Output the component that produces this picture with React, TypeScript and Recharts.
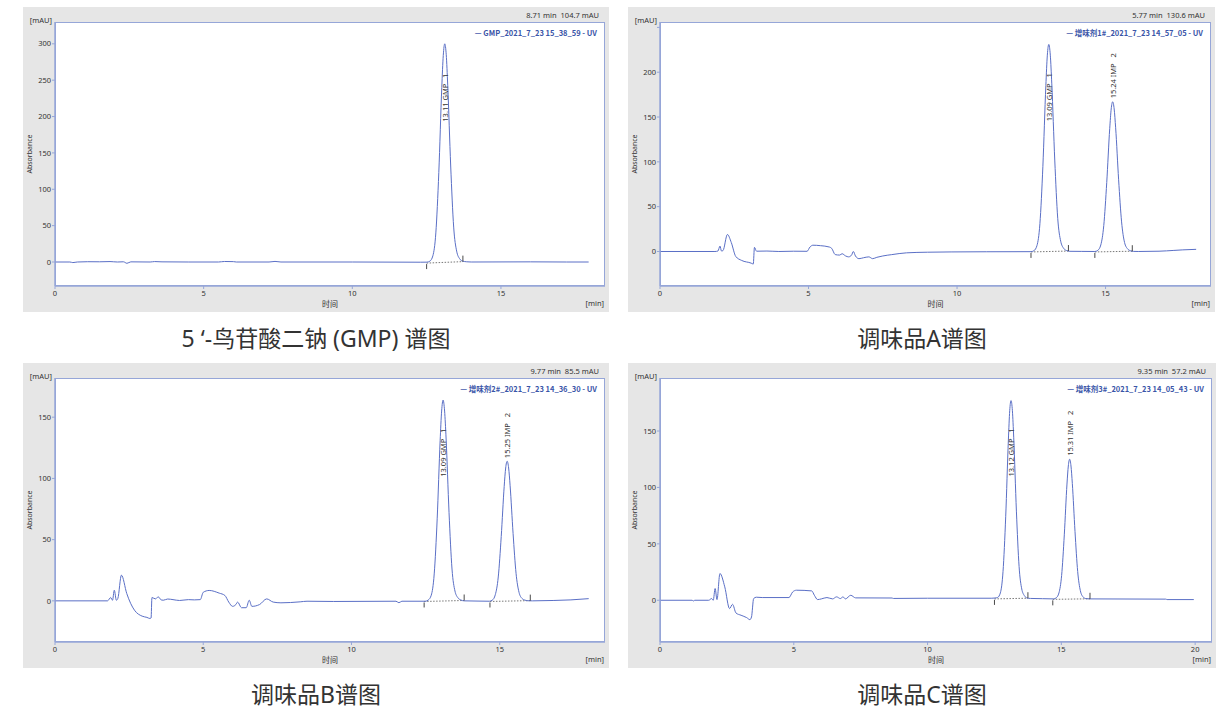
import React from 'react';
import { LineChart, Line, XAxis, YAxis, ReferenceDot, ReferenceLine } from 'recharts';

type Pt = { t: number; v: number };
type Peak = { t: number; labelAt: number; label: string };
type Span = { t1: number; v1: number; t2: number; v2: number };

// ---- 5'-GMP standard ----
const gmpStdTrace: Pt[] = [
  { t: 0, v: 0 }, { t: 0.5, v: 0 }, { t: 0.6, v: -0.8 }, { t: 0.75, v: 0 }, { t: 1.1, v: 0.4 },
  { t: 1.5, v: 0.3 }, { t: 1.85, v: 0.6 }, { t: 2.1, v: 0 }, { t: 2.3, v: 0.3 }, { t: 2.42, v: -1.8 },
  { t: 2.55, v: 0.2 }, { t: 3.2, v: 0 }, { t: 3.35, v: 0.6 }, { t: 3.6, v: 0.2 }, { t: 4.5, v: 0 },
  { t: 5.5, v: 0 }, { t: 5.7, v: 0.7 }, { t: 6.0, v: 0.5 }, { t: 6.1, v: 0 }, { t: 7.2, v: 0 },
  { t: 7.4, v: 0.8 }, { t: 7.6, v: 0 }, { t: 10, v: 0 }, { t: 12.3, v: -0.3 },
  { t: 12.51, v: -0.2 }, { t: 12.61, v: 1.2 }, { t: 12.71, v: 8.5 }, { t: 12.81, v: 40 },
  { t: 12.91, v: 123 }, { t: 13.01, v: 240 }, { t: 13.06, v: 284 }, { t: 13.11, v: 300 },
  { t: 13.16, v: 285 }, { t: 13.21, v: 243 }, { t: 13.31, v: 132 }, { t: 13.41, v: 48 },
  { t: 13.51, v: 15 }, { t: 13.61, v: 4.5 }, { t: 13.71, v: 1.2 }, { t: 13.85, v: 0.3 },
  { t: 14.0, v: 0 }, { t: 16.0, v: 0.2 }, { t: 17.2, v: 0 }, { t: 17.95, v: 0 },
];
const gmpStdPeaks: Peak[] = [{ t: 13.11, labelAt: 226, label: '13.11 GMP   1' }];
const gmpStdSpans: Span[] = [{ t1: 12.5, v1: -1.5, t2: 13.72, v2: 0.5 }];

// ---- sample A ----
const sampleATrace: Pt[] = [
  { t: 0, v: 0 }, { t: 1.85, v: 0 }, { t: 1.95, v: 0.5 }, { t: 2.02, v: 6 }, { t: 2.07, v: 0.5 },
  { t: 2.12, v: 1 }, { t: 2.27, v: 19 }, { t: 2.4, v: 10 }, { t: 2.55, v: -5.5 }, { t: 2.75, v: -10 },
  { t: 3.07, v: -13 }, { t: 3.14, v: -14 }, { t: 3.18, v: 4.6 }, { t: 3.25, v: 0.3 }, { t: 3.6, v: 0.5 },
  { t: 4.0, v: 0 }, { t: 4.5, v: 0.3 }, { t: 4.95, v: 0.2 }, { t: 5.05, v: 5 }, { t: 5.15, v: 7 },
  { t: 5.4, v: 6.5 }, { t: 5.7, v: 5 }, { t: 5.78, v: 3.5 }, { t: 5.9, v: -3.5 }, { t: 6.05, v: -4 },
  { t: 6.13, v: -2.5 }, { t: 6.25, v: -5 }, { t: 6.35, v: -6 }, { t: 6.45, v: -4 }, { t: 6.51, v: 0 },
  { t: 6.58, v: -5 }, { t: 6.7, v: -8 }, { t: 6.85, v: -7 }, { t: 7.03, v: -6 }, { t: 7.16, v: -8 },
  { t: 7.3, v: -6.5 }, { t: 7.5, v: -5 }, { t: 7.8, v: -3.5 }, { t: 8.3, v: -1.5 }, { t: 9.0, v: -0.8 },
  { t: 9.8, v: -0.5 }, { t: 11, v: -0.3 }, { t: 12.49, v: -0.2 },
  { t: 12.59, v: 0.9 }, { t: 12.69, v: 6.5 }, { t: 12.79, v: 31 }, { t: 12.89, v: 95 },
  { t: 12.99, v: 185 }, { t: 13.04, v: 219 }, { t: 13.09, v: 231 }, { t: 13.14, v: 219 },
  { t: 13.19, v: 187 }, { t: 13.29, v: 102 }, { t: 13.39, v: 37 }, { t: 13.49, v: 11.5 },
  { t: 13.59, v: 3.5 }, { t: 13.69, v: 1 }, { t: 13.8, v: 0.2 }, { t: 14.2, v: 0.1 },
  { t: 14.64, v: 0 }, { t: 14.74, v: 1.3 }, { t: 14.84, v: 7.3 }, { t: 14.94, v: 29 },
  { t: 15.04, v: 77 }, { t: 15.14, v: 137 }, { t: 15.19, v: 159 }, { t: 15.24, v: 167 },
  { t: 15.29, v: 159 }, { t: 15.34, v: 138 }, { t: 15.44, v: 80 }, { t: 15.54, v: 33 },
  { t: 15.64, v: 10 }, { t: 15.74, v: 3 }, { t: 15.84, v: 0.8 }, { t: 15.95, v: 0.1 },
  { t: 16.1, v: 0 }, { t: 16.8, v: 0.3 }, { t: 17.3, v: 1.2 }, { t: 17.6, v: 1.8 }, { t: 18.05, v: 2.4 },
];
const sampleAPeaks: Peak[] = [
  { t: 13.09, labelAt: 172, label: '13.09 GMP   1' },
  { t: 15.24, labelAt: 196, label: '15.24 IMP   2' },
];
const sampleASpans: Span[] = [
  { t1: 12.49, v1: -0.5, t2: 13.75, v2: 0.5 },
  { t1: 14.64, v1: -0.5, t2: 15.9, v2: 0.3 },
];

// ---- sample B ----
const sampleBTrace: Pt[] = [
  { t: 0, v: 0 }, { t: 1.77, v: 0 }, { t: 1.88, v: 2.7 }, { t: 1.94, v: 0.5 }, { t: 2.0, v: 8.7 },
  { t: 2.07, v: 0.5 }, { t: 2.12, v: 2 }, { t: 2.24, v: 21 }, { t: 2.42, v: 6 }, { t: 2.55, v: -2 },
  { t: 2.68, v: -7.6 }, { t: 2.94, v: -12.5 }, { t: 3.1, v: -13.5 }, { t: 3.2, v: -14.4 },
  { t: 3.24, v: -14 }, { t: 3.27, v: 2.7 }, { t: 3.39, v: 1.6 }, { t: 3.48, v: 3.3 }, { t: 3.58, v: 0.8 },
  { t: 3.65, v: 0.5 }, { t: 3.8, v: 1.5 }, { t: 3.98, v: 1 }, { t: 4.2, v: 0.3 }, { t: 4.5, v: 1 },
  { t: 4.7, v: 0.8 }, { t: 4.9, v: 1 }, { t: 5.0, v: 7 }, { t: 5.2, v: 8.5 }, { t: 5.54, v: 6.3 },
  { t: 5.73, v: 4.4 }, { t: 5.86, v: -1 }, { t: 5.99, v: -4.5 }, { t: 6.1, v: -3 }, { t: 6.16, v: -1 },
  { t: 6.29, v: -5.6 }, { t: 6.45, v: -5.6 }, { t: 6.55, v: 0.5 }, { t: 6.64, v: -4.5 }, { t: 6.9, v: -3 },
  { t: 7.14, v: 1.6 }, { t: 7.36, v: -1 }, { t: 7.62, v: -1.6 }, { t: 8.27, v: -0.8 }, { t: 8.5, v: -0.3 },
  { t: 9.4, v: -0.5 }, { t: 11.5, v: -0.3 }, { t: 11.6, v: -1.5 }, { t: 11.7, v: -0.3 }, { t: 12.49, v: -0.3 },
  { t: 12.59, v: 0.7 }, { t: 12.69, v: 4.6 }, { t: 12.79, v: 22 }, { t: 12.89, v: 67 },
  { t: 12.99, v: 131 }, { t: 13.04, v: 155 }, { t: 13.09, v: 164 }, { t: 13.14, v: 155 },
  { t: 13.19, v: 133 }, { t: 13.29, v: 72 }, { t: 13.39, v: 26 }, { t: 13.49, v: 8 },
  { t: 13.59, v: 2.5 }, { t: 13.69, v: 0.7 }, { t: 13.8, v: 0 }, { t: 14.3, v: -0.2 },
  { t: 14.65, v: -0.3 }, { t: 14.75, v: 0.6 }, { t: 14.85, v: 5 }, { t: 14.95, v: 19.5 },
  { t: 15.05, v: 52.5 }, { t: 15.15, v: 93.5 }, { t: 15.2, v: 108.5 }, { t: 15.25, v: 114 },
  { t: 15.3, v: 108.5 }, { t: 15.35, v: 94 }, { t: 15.45, v: 55 }, { t: 15.55, v: 22.5 },
  { t: 15.65, v: 7 }, { t: 15.75, v: 2 }, { t: 15.85, v: 0.6 }, { t: 15.95, v: 0.1 },
  { t: 16.1, v: 0 }, { t: 16.8, v: 0.3 }, { t: 17.4, v: 0.8 }, { t: 18.0, v: 1.8 },
];
const sampleBPeaks: Peak[] = [
  { t: 13.09, labelAt: 121, label: '13.09 GMP   1' },
  { t: 15.25, labelAt: 135, label: '15.25 IMP   2' },
];
const sampleBSpans: Span[] = [
  { t1: 12.45, v1: -0.5, t2: 13.8, v2: 0.3 },
  { t1: 14.67, v1: -0.5, t2: 16.03, v2: 0.2 },
];

// ---- sample C ----
const sampleCTrace: Pt[] = [
  { t: 0, v: 0 }, { t: 1.2, v: 0 }, { t: 1.25, v: -0.6 }, { t: 1.3, v: 0 }, { t: 1.82, v: 0 },
  { t: 1.93, v: 1.5 }, { t: 1.99, v: 0 }, { t: 2.06, v: 10.4 }, { t: 2.13, v: 0.6 }, { t: 2.24, v: 23.7 },
  { t: 2.42, v: 11.9 }, { t: 2.6, v: -7.4 }, { t: 2.71, v: -3.6 }, { t: 2.84, v: -11.3 },
  { t: 3.03, v: -13.3 }, { t: 3.24, v: -15.4 }, { t: 3.36, v: -17.2 }, { t: 3.42, v: -14.8 },
  { t: 3.5, v: 1.5 }, { t: 3.6, v: 2.7 }, { t: 3.82, v: 2.4 }, { t: 4.82, v: 2.4 }, { t: 4.96, v: 7.4 },
  { t: 5.1, v: 8.9 }, { t: 5.67, v: 8.3 }, { t: 5.77, v: 4.4 }, { t: 5.89, v: 0.6 }, { t: 6.03, v: 1.2 },
  { t: 6.24, v: 2.4 }, { t: 6.45, v: 1.2 }, { t: 6.6, v: 3 }, { t: 6.74, v: 1.5 }, { t: 6.84, v: 3 },
  { t: 6.93, v: 1.2 }, { t: 7.13, v: 4.4 }, { t: 7.31, v: 2.1 }, { t: 8.67, v: 2.0 }, { t: 8.72, v: 1.6 },
  { t: 10, v: 1.8 }, { t: 12.4, v: 1.8 },
  { t: 12.52, v: 2 }, { t: 12.62, v: 2.5 }, { t: 12.72, v: 6.5 }, { t: 12.82, v: 25.5 },
  { t: 12.92, v: 74 }, { t: 13.02, v: 142 }, { t: 13.07, v: 168 }, { t: 13.12, v: 177 },
  { t: 13.17, v: 168 }, { t: 13.22, v: 144 }, { t: 13.32, v: 79 }, { t: 13.42, v: 30 },
  { t: 13.52, v: 10 }, { t: 13.62, v: 4 }, { t: 13.72, v: 2 }, { t: 13.85, v: 1.6 },
  { t: 14.3, v: 1.4 }, { t: 14.71, v: 1.2 }, { t: 14.81, v: 2.2 }, { t: 14.91, v: 6.5 },
  { t: 15.01, v: 22 }, { t: 15.11, v: 58 }, { t: 15.21, v: 103 }, { t: 15.26, v: 119 },
  { t: 15.31, v: 125 }, { t: 15.36, v: 119 }, { t: 15.41, v: 103.5 }, { t: 15.51, v: 61 },
  { t: 15.61, v: 25.5 }, { t: 15.71, v: 8.5 }, { t: 15.81, v: 3 }, { t: 15.91, v: 1.5 },
  { t: 16.05, v: 1.2 }, { t: 18.9, v: 1.0 }, { t: 18.95, v: 0.6 }, { t: 19.95, v: 0.6 },
];
const sampleCPeaks: Peak[] = [
  { t: 13.12, labelAt: 131, label: '13.12 GMP   1' },
  { t: 15.31, labelAt: 148, label: '15.31 IMP   2' },
];
const sampleCSpans: Span[] = [
  { t1: 12.5, v1: 1.2, t2: 13.75, v2: 1.8 },
  { t1: 14.68, v1: 0.8, t2: 16.07, v2: 1.3 },
];

const FONT = "'Noto Sans', 'Noto Sans CJK SC', sans-serif";
const CJK = "'Noto Sans CJK SC', 'Noto Sans', sans-serif";
const TRACE = '#5a6fc6';
const FRAME = '#96a6d8';
const PANEL_BG = '#e6e6e6';
const Y_AXIS_W = 28;
const X_AXIS_H = 26;
const MARGIN = { top: 15, right: 4, bottom: 0, left: 4 };

type PanelProps = {
  left: number;
  top: number;
  width: number;
  height: number;
  data: Pt[];
  xDomain: [number, number];
  xTicks: number[];
  yDomain: [number, number];
  yTicks: number[];
  hiddenYTicks?: number[];
  peaks: Peak[];
  spans: Span[];
  cursor: string;
  legend: string;
};

const Panel = ({
  left, top, width, height, data, xDomain, xTicks, yDomain, yTicks,
  hiddenYTicks = [], peaks, spans, cursor, legend,
}: PanelProps) => {
  const plotLeft = MARGIN.left + Y_AXIS_W;
  const plotTop = MARGIN.top;
  const plotW = width - plotLeft - MARGIN.right;
  const plotH = height - plotTop - X_AXIS_H;
  const tickStyle = { fontSize: 7.5, fill: '#333', fontFamily: FONT };

  return (
    <div style={{ position: 'absolute', left, top, width, height, background: PANEL_BG }}>
      <div
        style={{
          position: 'absolute', left: plotLeft, top: plotTop, width: plotW, height: plotH,
          background: '#fff', boxSizing: 'border-box', border: `1.5px solid ${FRAME}`,
        }}
      />
      <LineChart
        width={width}
        height={height}
        data={data}
        margin={MARGIN}
        style={{ position: 'absolute', left: 0, top: 0 }}
      >
        <XAxis
          dataKey="t"
          type="number"
          domain={xDomain}
          ticks={xTicks}
          allowDataOverflow
          height={X_AXIS_H}
          tickSize={3}
          tickMargin={2}
          tick={tickStyle}
          axisLine={{ stroke: FRAME, strokeWidth: 1.5 }}
          tickLine={{ stroke: FRAME }}
        />
        <YAxis
          type="number"
          domain={yDomain}
          ticks={yTicks}
          allowDataOverflow
          width={Y_AXIS_W}
          tickSize={3}
          tickMargin={1}
          tick={tickStyle}
          tickFormatter={(v: number) => (hiddenYTicks.includes(v) ? '' : String(v))}
          axisLine={{ stroke: FRAME, strokeWidth: 1.5 }}
          tickLine={{ stroke: FRAME }}
        />
        {spans.map((s, i) => (
          <ReferenceLine
            key={`seg${i}`}
            segment={[{ x: s.t1, y: s.v1 }, { x: s.t2, y: s.v2 }]}
            stroke="#555"
            strokeWidth={0.8}
            strokeDasharray="1.5 1.5"
          />
        ))}
        <Line
          type="monotone"
          dataKey="v"
          stroke={TRACE}
          strokeWidth={1}
          dot={false}
          isAnimationActive={false}
        />
        {spans.map((s, i) => (
          <ReferenceDot
            key={`s${i}`}
            x={s.t1}
            y={s.v1}
            shape={(p: any) => (
              <line x1={p.cx} y1={p.cy + 1} x2={p.cx} y2={p.cy + 6} stroke="#333" strokeWidth={0.9} />
            )}
          />
        ))}
        {spans.map((s, i) => (
          <ReferenceDot
            key={`e${i}`}
            x={s.t2}
            y={s.v2}
            shape={(p: any) => (
              <line x1={p.cx} y1={p.cy} x2={p.cx} y2={p.cy - 6} stroke="#333" strokeWidth={0.9} />
            )}
          />
        ))}
        {peaks.map((pk, i) => (
          <ReferenceDot
            key={`p${i}`}
            x={pk.t}
            y={pk.labelAt}
            shape={(p: any) => (
              <text
                x={p.cx}
                y={p.cy}
                transform={`rotate(-90 ${p.cx} ${p.cy})`}
                textAnchor="middle"
                dominantBaseline="central"
                fontSize={7.5}
                fill="#333"
                fontFamily={FONT}
                style={{ whiteSpace: 'pre' }}
              >
                {pk.label}
              </text>
            )}
          />
        ))}
      </LineChart>
      <svg
        width={width}
        height={height}
        style={{ position: 'absolute', left: 0, top: 0, pointerEvents: 'none' }}
        fontFamily={FONT}
      >
        <text x={width - 10} y={8} textAnchor="end" dominantBaseline="central" fontSize={7.5} fill="#333" style={{ whiteSpace: 'pre' }}>
          {cursor}
        </text>
        <text x={width - 12} y={25} textAnchor="end" dominantBaseline="central" fontSize={7.5} fontWeight="bold" fill="#3a55a8" fontFamily={CJK} style={{ whiteSpace: 'pre' }}>
          {'— ' + legend}
        </text>
        <text x={plotLeft - 3} y={13} textAnchor="end" dominantBaseline="central" fontSize={7.5} fill="#333">
          [mAU]
        </text>
        <text
          x={6}
          y={plotTop + plotH / 2}
          transform={`rotate(-90 6 ${plotTop + plotH / 2})`}
          textAnchor="middle"
          dominantBaseline="central"
          fontSize={7}
          fill="#333"
        >
          Absorbance
        </text>
        <text x={plotLeft + plotW / 2} y={height - 9} textAnchor="middle" dominantBaseline="central" fontSize={8} fill="#333" fontFamily={CJK}>
          时间
        </text>
        <text x={width - 5} y={height - 9} textAnchor="end" dominantBaseline="central" fontSize={7.5} fill="#333">
          [min]
        </text>
      </svg>
    </div>
  );
};

const Caption = ({ x, y, text }: { x: number; y: number; text: string }) => (
  <div
    style={{
      position: 'absolute', left: x - 250, top: y - 16, width: 500, height: 32, lineHeight: '32px',
      textAlign: 'center', fontFamily: FONT, fontSize: 23, color: '#333', whiteSpace: 'pre',
    }}
  >
    {text}
  </div>
);

export default function App() {
  return (
    <div style={{ position: 'absolute', left: 0, top: 0, width: 1223, height: 710, background: '#fff', overflow: 'hidden' }}>
      <Panel
        left={23} top={7} width={586} height={305}
        data={gmpStdTrace} xDomain={[0, 18.5]} xTicks={[0, 5, 10, 15]}
        yDomain={[-33, 330]} yTicks={[0, 50, 100, 150, 200, 250, 300]}
        peaks={gmpStdPeaks} spans={gmpStdSpans}
        cursor="8.71 min  104.7 mAU" legend="GMP_2021_7_23 15_38_59 - UV"
      />
      <Panel
        left={628} top={7} width={587} height={305}
        data={sampleATrace} xDomain={[0, 18.55]} xTicks={[0, 5, 10, 15]}
        yDomain={[-38.5, 256]} yTicks={[0, 50, 100, 150, 200, 250]} hiddenYTicks={[250]}
        peaks={sampleAPeaks} spans={sampleASpans}
        cursor="5.77 min  130.6 mAU" legend="增味剂1#_2021_7_23 14_57_05 - UV"
      />
      <Panel
        left={23} top={363} width={586} height={305}
        data={sampleBTrace} xDomain={[0, 18.55]} xTicks={[0, 5, 10, 15]}
        yDomain={[-33.6, 182]} yTicks={[0, 50, 100, 150]}
        peaks={sampleBPeaks} spans={sampleBSpans}
        cursor="9.77 min  85.5 mAU" legend="增味剂2#_2021_7_23 14_36_30 - UV"
      />
      <Panel
        left={628} top={363} width={588} height={305}
        data={sampleCTrace} xDomain={[0, 20.63]} xTicks={[0, 5, 10, 15, 20]}
        yDomain={[-37, 197]} yTicks={[0, 50, 100, 150]}
        peaks={sampleCPeaks} spans={sampleCSpans}
        cursor="9.35 min  57.2 mAU" legend="增味剂3#_2021_7_23 14_05_43 - UV"
      />
      <Caption x={316} y={338} text="5 ‘-鸟苷酸二钠 (GMP) 谱图" />
      <Caption x={922} y={338} text="调味品A谱图" />
      <Caption x={316} y={694} text="调味品B谱图" />
      <Caption x={922} y={694} text="调味品C谱图" />
    </div>
  );
}
